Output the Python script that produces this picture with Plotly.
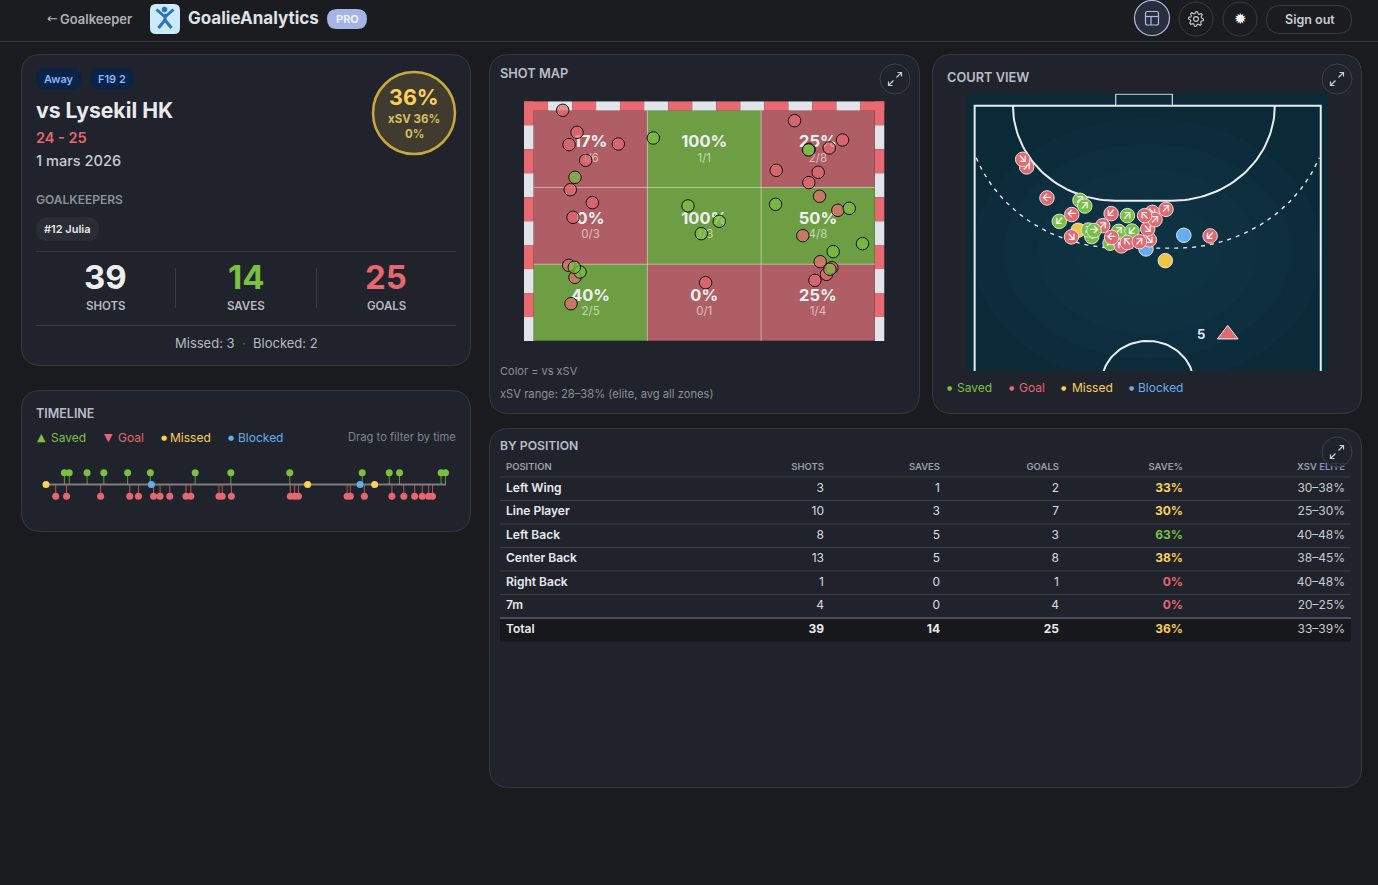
import numpy as np
import plotly.graph_objects as go

W, H = 1378, 885
FONT = "Inter"

BG = "#1a1b1e"
PANEL = "#20232b"
BORDER = "#373a41"
TEXT = "#e8eaed"
DIM = "#8b9099"
GREEN = "#7ac142"
RED = "#e5676f"
YELLOW = "#fdd05a"
BLUE = "#64aef0"

# timeline, minutes
saved_min = [3.4, 4.3, 7.6, 10.7, 15.1, 19.3, 27.6, 34.2, 45.1, 58.5, 63.5, 65.4, 73.1, 73.9]
goal_min = [1.8, 3.8, 10.1, 15.5, 17.1, 19.9, 21.1, 22.9, 25.9, 26.8, 32.0, 32.6, 34.3, 45.2,
            46.0, 46.7, 55.7, 56.3, 58.9, 64.0, 66.2, 68.2, 69.6, 70.8, 71.5]
missed_min = [0, 48.4, 60.8]
blocked_min = [19.5, 58.1]

# goal zones, top row first
zone_rate = [[17, 100, 25], [0, 100, 50], [40, 0, 25]]
zone_pct = ["17%", "100%", "25%", "0%", "100%", "50%", "40%", "0%", "25%"]
zone_count = ["1/6", "1/1", "2/8", "0/3", "3/3", "4/8", "2/5", "0/1", "1/4"]

# shots on the goal, in zone units
goal_x = [.255, .381, .311, .744, .457, .322, .516, .346, .308, .363, .328, 1.512, 2.294, 2.716,
          2.599, 2.133, 2.502, 2.420, 2.514, 2.675, 2.367, 2.520, 2.575, 2.622, 2.473]
goal_y = [3.005, 2.718, 2.558, 2.566, 2.353, 1.971, 1.802, 1.611, .986, .829, .486, .760, 2.870, 2.618,
          2.514, 2.223, 2.197, 2.063, 1.885, 1.702, 1.372, 1.033, .868, .955, .790]
save_x = [1.052, .363, 2.423, 2.417, .407, .357, 1.357, 1.632, 1.474, 2.127, 2.775, 2.892, 2.634, 2.605]
save_y = [2.644, 2.132, 2.497, 2.488, .899, .960, 1.759, 1.559, 1.398, 1.780, 1.728, 1.268, 1.164, .934]

# shots on the court, metres-ish, in drawing order
court_x = [-7.08, -7.31, -5.89, -3.96, -3.68, -5.17, -4.44, -4.07, -3.27, -3.47, -2.63, -3.14, -4.46, -2.20, -1.70,
           -1.19, -0.92, -2.14, -1.54, -0.10, 0.10, -1.19, -2.11, -0.49, 0.0, 0.27, 1.07, 0.43, -0.18, 3.65, 1.03, 2.11]
court_y = [3.87, 3.39, 5.83, 5.98, 6.34, 7.31, 6.88, 7.87, 8.27, 7.85, 7.58, 7.89, 8.29, 8.69, 7.94,
           6.95, 7.92, 6.82, 8.86, 9.05, 8.48, 8.65, 8.32, 8.59, 7.79, 6.74, 6.55, 7.20, 6.95, 8.23, 9.79, 8.19]
court_kind = ["G", "G", "G", "S", "S", "S", "G", "M", "S", "S", "G", "S", "G", "S", "S",
              "S", "S", "G", "G", "B", "G", "G", "G", "G", "G", "G", "G", "G", "G", "G", "M", "B"]
court_arrow = ["↗", "↘", "←", "↗", "↗", "↙", "←", "", "→", "↗", "↗", "→", "↘", "↗", "↗",
               "↗", "↙", "↙", "↖", "", "↘", "↖", "←", "↗", "↘", "↘", "↗", "↗", "↖", "↙", "", ""]
player_x = [4.68]
player_y = [14.45]
player_label = ["5"]

# table
positions = ["Left Wing", "Line Player", "Left Back", "Center Back", "Right Back", "7m", "Total"]
shots = [3, 10, 8, 13, 1, 4, 39]
saves = [1, 3, 5, 5, 0, 0, 14]
goals = [2, 7, 3, 8, 1, 4, 25]
save_pct = ["33%", "30%", "63%", "38%", "0%", "0%", "36%"]
xsv_elite = ["30–38%", "25–30%", "40–48%", "38–45%", "40–48%", "20–25%", "33–39%"]
pct_color = [YELLOW, YELLOW, GREEN, YELLOW, RED, RED, YELLOW]


def fx(x):
    return x / W


def fy(y):
    return 1 - y / H


def rr_path(x0, y0, x1, y1, r):
    # rounded rectangle in page pixels, written in paper units
    pts = [("M", x0 + r, y0), ("L", x1 - r, y0), ("Q", x1, y0, x1, y0 + r), ("L", x1, y1 - r),
           ("Q", x1, y1, x1 - r, y1), ("L", x0 + r, y1), ("Q", x0, y1, x0, y1 - r), ("L", x0, y0 + r),
           ("Q", x0, y0, x0 + r, y0)]
    out = []
    for p in pts:
        nums = p[1:]
        coords = [f"{fx(nums[i]):.5f},{fy(nums[i + 1]):.5f}" for i in range(0, len(nums), 2)]
        out.append(p[0] + " ".join(coords))
    return " ".join(out) + " Z"


fig = go.Figure()


def box(x0, y0, x1, y1, r, fill, line=None, lw=1, layer="below"):
    fig.add_shape(type="path", path=rr_path(x0, y0, x1, y1, r), xref="paper", yref="paper",
                  fillcolor=fill, line=dict(color=line or "rgba(0,0,0,0)", width=lw if line else 0), layer=layer)


def hline(x0, x1, y, color=BORDER, w=1):
    fig.add_shape(type="line", xref="paper", yref="paper", x0=fx(x0), x1=fx(x1), y0=fy(y), y1=fy(y),
                  line=dict(color=color, width=w), layer="below")


def vline(x, y0, y1, color=BORDER, w=1):
    fig.add_shape(type="line", xref="paper", yref="paper", x0=fx(x), x1=fx(x), y0=fy(y0), y1=fy(y1),
                  line=dict(color=color, width=w), layer="below")


def circle(cx, cy, r, fill="rgba(0,0,0,0)", line=BORDER, lw=1, layer="below"):
    fig.add_shape(type="circle", xref="paper", yref="paper", x0=fx(cx - r), x1=fx(cx + r),
                  y0=fy(cy + r), y1=fy(cy - r), fillcolor=fill, line=dict(color=line, width=lw), layer=layer)


def txt(x, y, s, size=12, color=TEXT, anchor="left", weight=400, family=FONT):
    # left-anchored annotations land about a pixel right of the asked spot
    dx = -1 if anchor == "left" else 0
    fig.add_annotation(x=fx(x + dx), y=fy(y - 0.1), xref="paper", yref="paper", text=s, showarrow=False,
                       xanchor=anchor, yanchor="middle", borderpad=0,
                       font=dict(family=family, size=size, color=color, weight=weight))


def expand_icon(cx, cy):
    circle(cx, cy, 15, fill="rgba(32,35,43,0.82)", line="#3d4047", layer="above")
    for sx, sy in [(1, -1), (-1, 1)]:
        path = (f"M{fx(cx + sx * 1.5):.5f},{fy(cy + sy * 1.5):.5f} L{fx(cx + sx * 6.5):.5f},{fy(cy + sy * 6.5):.5f} "
                f"M{fx(cx + sx * 2.5):.5f},{fy(cy + sy * 6.5):.5f} L{fx(cx + sx * 6.5):.5f},{fy(cy + sy * 6.5):.5f} "
                f"L{fx(cx + sx * 6.5):.5f},{fy(cy + sy * 2.5):.5f}")
        fig.add_shape(type="path", path=path, xref="paper", yref="paper",
                      line=dict(color="#c9ced6", width=1.2), layer="above")


def gear_icon(cx, cy):
    ang = np.linspace(0, 2 * np.pi, 33)[:-1]
    rad = [7.5, 7.5, 5.6, 5.6] * 8
    pts = [f"{fx(cx + r * np.cos(a)):.5f},{fy(cy + r * np.sin(a)):.5f}" for r, a in zip(rad, ang)]
    fig.add_shape(type="path", path="M" + " L".join(pts) + " Z", xref="paper", yref="paper",
                  line=dict(color="#c9ccd1", width=1.1), layer="below")
    circle(cx, cy, 2.4, line="#c9ccd1", lw=1.1)


def hidden(domain, rng, anchor):
    return dict(domain=domain, range=rng, anchor=anchor, visible=False, fixedrange=True)


def xdom(a, b):
    return [a / W, b / W]


def ydom(top, bottom):
    return [1 - bottom / H, 1 - top / H]


# page furniture
box(0, 0, W, 41.5, 0, "#1b1c20")
hline(0, W, 41.5, "#37393f")
box(21.5, 54.5, 470.5, 365.5, 20, PANEL, BORDER)
box(21.5, 390.5, 470.5, 531.5, 20, PANEL, BORDER)
box(489.5, 54.5, 919.5, 413.5, 20, PANEL, BORDER)
box(932.5, 54.5, 1361.5, 413.5, 20, PANEL, BORDER)
box(489.5, 428.5, 1361.5, 787.5, 20, PANEL, BORDER)

# header bar
txt(47, 19, "←", 13, "#adb2b9", family="DejaVu Sans")
txt(60, 19, "Goalkeeper", 13, "#adb2b9", weight=600)
box(150, 4, 180, 34, 6, "#cdeafc")
circle(164.5, 9.5, 2.4, fill="#2776b8", line="#2776b8")
for a, b, c, d in [(156.5, 9.5, 165, 17), (173.5, 9.5, 165, 17), (165, 14, 165, 21), (165, 20, 158.5, 28), (165, 20, 171.5, 28)]:
    fig.add_shape(type="line", xref="paper", yref="paper", x0=fx(a), y0=fy(b), x1=fx(c), y1=fy(d),
                  line=dict(color="#2776b8", width=3), layer="below")
txt(188, 18, "GoalieAnalytics", 17, "#dfe2e6", weight=700)
box(327, 9, 367, 29, 10, "#a5b4e6")
txt(347, 19, "PRO", 11, "#eef1fb", "center", 700)

circle(1152, 18, 17.5, fill="#282e3c", line="#a9bde8", lw=1.2)
box(1145.5, 11.5, 1158.5, 25, 2, "rgba(0,0,0,0)", "#a9bde8", 1.2)
hline(1145.5, 1158.5, 16.5, "#a9bde8", 1.2)
vline(1151, 16.5, 25, "#a9bde8", 1.2)
circle(1196, 19, 17, line="#3a3c42")
gear_icon(1196, 19)
circle(1240, 19, 17, line="#3a3c42")
txt(1240, 19.5, "✹", 15, "#f2f2f2", "center", family="DejaVu Sans")
box(1266.5, 5.5, 1351.5, 33.5, 14, "rgba(0,0,0,0)", "#3a3c42")
txt(1309.5, 19.5, "Sign out", 12.5, "#c9ccd1", "center", 600)

# match card
box(36, 68, 81, 90, 11, "#0a2347")
txt(58.5, 79, "Away", 11, "#8ab4f8", "center", 600)
box(90, 68, 134, 90, 11, "#0a2347")
txt(112, 79, "F19 2", 11, "#8ab4f8", "center", 600)
txt(36, 110, "vs Lysekil HK", 21.2, TEXT, weight=700)
txt(36, 138, "24 - 25", 14.5, RED, weight=600)
txt(36, 161, "1 mars 2026", 14.6, "#c9ccd1", weight=500)
circle(414, 113, 41, fill="#3f3b2e", line="#c9a93f", lw=2.5)
txt(414, 97, "36%", 21.5, YELLOW, "center", 700)
txt(414, 119, "xSV 36%", 11.5, "#d9bf5c", "center", 700)
txt(414, 134, "0%", 11.5, "#d9bf5c", "center", 700)
txt(36, 200, "GOALKEEPERS", 12, DIM, weight=600)
box(36, 217, 99, 241, 12, "#2a2d35")
txt(44, 229, "#12 Julia", 11, TEXT, weight=600)
hline(36, 456, 251.5)
hline(36, 456, 325.5)
vline(175.5, 268, 308)
vline(316.5, 268, 308)
for cx, val, lab, col in [(105.5, "39", "SHOTS", "#eceef0"), (246, "14", "SAVES", GREEN), (386, "25", "GOALS", RED)]:
    txt(cx, 277.5, val, 33, col, "center", 700)
    txt(cx, 306.5, lab, 11.5, "#b6bac1", "center", 600)
txt(175, 343, "Missed: 3", 13, "#b6bac1")
txt(243.5, 343, "·", 13, "#5f636b", "center")
txt(253, 343, "Blocked: 2", 13, "#b6bac1")

# timeline legend and titles
txt(36, 414, "TIMELINE", 12.5, "#b8bec8", weight=600)
txt(37, 438, "▲", 11, GREEN, family="DejaVu Sans")
txt(51, 438, "Saved", 12, GREEN)
txt(104, 438, "▼", 11, RED, family="DejaVu Sans")
txt(118, 438, "Goal", 12, RED)
txt(161, 438, "●", 7, YELLOW, family="DejaVu Sans")
txt(170, 438, "Missed", 12, YELLOW)
txt(228, 438, "●", 7, BLUE, family="DejaVu Sans")
txt(238, 438, "Blocked", 12, BLUE)
txt(456.5, 437, "Drag to filter by time", 11.2, "#7f8590", "right")

txt(500, 74, "SHOT MAP", 12.8, "#b8bec8", weight=600)
txt(500, 371, "Color = vs xSV", 11, DIM)
txt(500, 394, "xSV range: 28–38% (elite, avg all zones)", 11.2, DIM)
txt(947, 78, "COURT VIEW", 12.8, "#b8bec8", weight=600)
for dot, tx, lab, col in [(947, 957, "Saved", GREEN), (1009, 1019, "Goal", RED), (1061, 1072, "Missed", YELLOW), (1129, 1138, "Blocked", BLUE)]:
    txt(dot, 388, "●", 6, col, family="DejaVu Sans")
    txt(tx, 388, lab, 12, col)
txt(500, 446, "BY POSITION", 12.2, "#b8bec8", weight=600)

expand_icon(895, 79)
expand_icon(1337, 79)
expand_icon(1337, 452)

# timeline
stem = dict(type="data", symmetric=False, thickness=1, width=0)
fig.add_trace(go.Scatter(x=[0, 74], y=[0, 0], mode="lines", line=dict(color="#7c7c7c", width=2),
                         xaxis="x", yaxis="y", cliponaxis=False, hoverinfo="skip"))
fig.add_trace(go.Scatter(x=saved_min, y=[1] * len(saved_min), mode="markers", xaxis="x", yaxis="y", cliponaxis=False,
                         marker=dict(size=7, color=GREEN),
                         error_y=dict(stem, array=[0] * len(saved_min), arrayminus=[1] * len(saved_min), color="rgba(122,193,66,0.75)")))
fig.add_trace(go.Scatter(x=goal_min, y=[-1] * len(goal_min), mode="markers", xaxis="x", yaxis="y", cliponaxis=False,
                         marker=dict(size=7, color=RED),
                         error_y=dict(stem, array=[1] * len(goal_min), arrayminus=[0] * len(goal_min), color="rgba(229,103,111,0.75)")))
fig.add_trace(go.Scatter(x=missed_min, y=[0] * len(missed_min), mode="markers", xaxis="x", yaxis="y", cliponaxis=False,
                         marker=dict(size=7, color=YELLOW)))
fig.add_trace(go.Scatter(x=blocked_min, y=[0] * len(blocked_min), mode="markers", xaxis="x", yaxis="y", cliponaxis=False,
                         marker=dict(size=7, color=BLUE)))
for t, lab, anc in [(0, "0'", "left"), (37, "37'", "center"), (74, "74'", "right")]:
    fig.add_annotation(x=t, y=-2.35, xref="x", yref="y", text=lab, showarrow=False, xanchor=anc, yanchor="middle",
                       font=dict(family=FONT, size=8.5, color="#a4a9b1"))

# shot map frame
FRAME_RED = "#e8696f"
FRAME_WHITE = "#e1e4e8"
top_edges = np.linspace(-0.0853, 3.0853, 16)
for i in range(15):
    fig.add_shape(type="rect", xref="x2", yref="y2", x0=top_edges[i], x1=top_edges[i + 1], y0=3, y1=3.122,
                  fillcolor=FRAME_RED if i % 2 == 0 else FRAME_WHITE, line_width=0, layer="below")
side_edges = np.linspace(3.122, 0, 11)
for i in range(10):
    for a, b in [(-0.0853, 0), (3, 3.0853)]:
        fig.add_shape(type="rect", xref="x2", yref="y2", x0=a, x1=b, y0=side_edges[i + 1], y1=side_edges[i],
                      fillcolor=FRAME_RED if i % 2 == 0 else FRAME_WHITE, line_width=0, layer="below")
fig.add_trace(go.Heatmap(x=[0.5, 1.5, 2.5], y=[2.5, 1.5, 0.5], z=zone_rate, zmin=0, zmax=100, showscale=False,
                         colorscale=[[0, "#b05e66"], [0.33, "#b05e66"], [0.33, "#6d9e44"], [1, "#6d9e44"]],
                         xaxis="x2", yaxis="y2", hoverinfo="skip"))
fig.add_trace(go.Scatter(x=[1, 1, None, 2, 2, None, 0, 3, None, 0, 3], y=[0, 3, None, 0, 3, None, 1, 1, None, 2, 2],
                         mode="lines", line=dict(color="rgba(255,255,255,0.45)", width=1), xaxis="x2", yaxis="y2", hoverinfo="skip"))
zone_cx = [0.5, 1.5, 2.5] * 3
zone_cy = [2.5] * 3 + [1.5] * 3 + [0.5] * 3
fig.add_trace(go.Scatter(x=zone_cx, y=[v + 0.08 for v in zone_cy], text=zone_pct, mode="text", xaxis="x2", yaxis="y2",
                         textfont=dict(family=FONT, size=16.5, color="#eef0f2", weight=700), hoverinfo="skip"))
fig.add_trace(go.Scatter(x=zone_cx, y=[v - 0.125 for v in zone_cy], text=zone_count, mode="text", xaxis="x2", yaxis="y2",
                         textfont=dict(family=FONT, size=11.5, color="rgba(255,255,255,0.6)"), hoverinfo="skip"))
fig.add_trace(go.Scatter(x=goal_x, y=goal_y, mode="markers", xaxis="x2", yaxis="y2", cliponaxis=False,
                         marker=dict(size=12.5, color="rgba(232,105,111,0.7)", line=dict(color="#111", width=1))))
fig.add_trace(go.Scatter(x=save_x, y=save_y, mode="markers", xaxis="x2", yaxis="y2", cliponaxis=False,
                         marker=dict(size=12.5, color="rgba(122,193,66,0.7)", line=dict(color="#111", width=1))))

# court
fig.add_shape(type="rect", xref="x3", yref="y3", x0=-10.585, x1=10.526, y0=-0.779, y1=16.76,
              fillcolor="#0b2a38", line_width=0, layer="below")
for rx, ry in [(10.2, 8.4), (8.4, 6.8), (6.4, 5.2), (4.2, 3.4)]:
    fig.add_shape(type="circle", xref="x3", yref="y3", x0=-rx, x1=rx, y0=9.2 - ry, y1=9.2 + ry,
                  fillcolor="rgba(40,100,120,0.05)", line_width=0, layer="below")


def goal_arc(cx, p, r, start=0.0):
    t = np.linspace(start, np.pi / 2, 40)
    left_x = cx - p - r * np.cos(t)
    right_x = cx + p + r * np.cos(t[::-1])
    ys = r * np.sin(t)
    return list(left_x) + list(right_x), list(ys) + list(ys[::-1])


LINE = "#e9edf0"
arc_x, arc_y = goal_arc(-0.224, 1.657, 6)
fig.add_trace(go.Scatter(x=arc_x, y=arc_y, mode="lines", line=dict(color=LINE, width=2), xaxis="x3", yaxis="y3", hoverinfo="skip"))
arc_x, arc_y = goal_arc(0, 1.657, 9, start=0.375)
fig.add_trace(go.Scatter(x=arc_x, y=arc_y, mode="lines", line=dict(color=LINE, width=1.4, dash="4px,5px"), xaxis="x3", yaxis="y3", hoverinfo="skip"))
fig.add_trace(go.Scatter(x=[-10.12, -10.12, 10.12, 10.12], y=[16.76, 0, 0, 16.76], mode="lines",
                         line=dict(color=LINE, width=2), xaxis="x3", yaxis="y3", hoverinfo="skip"))
fig.add_trace(go.Scatter(x=[-1.87, -1.87, 1.44, 1.44], y=[0, -0.72, -0.72, 0], mode="lines",
                         line=dict(color="#d5dade", width=1.2), xaxis="x3", yaxis="y3", hoverinfo="skip"))
t = np.linspace(np.pi, 2 * np.pi, 60)
fig.add_trace(go.Scatter(x=2.7 * np.cos(t), y=17.56 + 2.7 * np.sin(t), mode="lines", line=dict(color=LINE, width=2),
                         xaxis="x3", yaxis="y3", hoverinfo="skip"))

kind_color = {"S": GREEN, "G": RED, "M": "#eec643", "B": BLUE}
for cx_, cy_, kind, arrow in zip(court_x, court_y, court_kind, court_arrow):
    fig.add_trace(go.Scatter(x=[cx_], y=[cy_], text=[arrow], mode="markers+text", textposition="middle center",
                             xaxis="x3", yaxis="y3", cliponaxis=False,
                             marker=dict(size=14.5, color=kind_color[kind], line=dict(color="#dfe3e6", width=1)),
                             textfont=dict(family=FONT, size=11.5, color="#f6f7f8", weight=600)))
fig.add_trace(go.Scatter(x=player_x, y=player_y, mode="markers", xaxis="x3", yaxis="y3",
                         marker=dict(symbol="triangle-up", size=18, color=RED, line=dict(color="#f0f0f0", width=1))))
fig.add_annotation(x=3.12, y=14.42, xref="x3", yref="y3", text=player_label[0], showarrow=False,
                   font=dict(family=FONT, size=13, color="#dfe8f2", weight=700))

# table
ROW_LINES = [-0.5, 0.5, 1.5, 2.5, 3.5, 4.5]
fig.add_shape(type="rect", xref="x4", yref="y4", x0=500, x1=1351, y0=5.55, y1=6.5, fillcolor="#17181b", line_width=0, layer="below")
for r in ROW_LINES:
    fig.add_shape(type="line", xref="x4", yref="y4", x0=500, x1=1351, y0=r, y1=r, line=dict(color="#3b3e45", width=1), layer="below")
fig.add_shape(type="line", xref="x4", yref="y4", x0=500, x1=1351, y0=5.5, y1=5.5, line=dict(color="#4a4d54", width=2), layer="below")

rows = list(range(len(positions)))
columns = [(824, "SHOTS", shots), (940, "SAVES", saves), (1059, "GOALS", goals)]
HEADER_Y = -0.9
header = dict(family=FONT, size=9.5, color="#9aa0a8", weight=600)
fig.add_trace(go.Scatter(x=[506], y=[HEADER_Y], text=["POSITION"], mode="text", textposition="middle right",
                         textfont=header, xaxis="x4", yaxis="y4", hoverinfo="skip"))
fig.add_trace(go.Scatter(x=[col[0] for col in columns] + [1183], y=[HEADER_Y] * 4,
                         text=[col[1] for col in columns] + ["SAVE%"], mode="text", textposition="middle left",
                         textfont=header, xaxis="x4", yaxis="y4", hoverinfo="skip"))
fig.add_trace(go.Scatter(x=[1345], y=[HEADER_Y], text=["XSV <span style='color:#7f93c4'>ELITE</span>"], mode="text",
                         textposition="middle left", textfont=header, xaxis="x4", yaxis="y4", hoverinfo="skip"))
for i in rows:
    fig.add_trace(go.Scatter(x=[506], y=[i], text=[positions[i]], mode="text", textposition="middle right",
                             textfont=dict(family=FONT, size=12, color=TEXT, weight=600), xaxis="x4", yaxis="y4", hoverinfo="skip"))
    for cx_, _, vals in columns:
        fig.add_trace(go.Scatter(x=[cx_], y=[i], text=[vals[i]], mode="text", textposition="middle left",
                                 textfont=dict(family=FONT, size=12, color="#d9dce0" if i < 6 else TEXT, weight=400 if i < 6 else 700),
                                 xaxis="x4", yaxis="y4", hoverinfo="skip"))
    fig.add_trace(go.Scatter(x=[1183], y=[i], text=[save_pct[i]], mode="text", textposition="middle left",
                             textfont=dict(family=FONT, size=12, color=pct_color[i], weight=700), xaxis="x4", yaxis="y4", hoverinfo="skip"))
    fig.add_trace(go.Scatter(x=[1345], y=[i], text=[xsv_elite[i]], mode="text", textposition="middle left",
                             textfont=dict(family=FONT, size=12, color="#c9ccd1"), xaxis="x4", yaxis="y4", hoverinfo="skip"))

fig.update_layout(
    width=W, height=H, margin=dict(l=0, r=0, t=0, b=0), autosize=False,
    paper_bgcolor=BG, plot_bgcolor="rgba(0,0,0,0)", showlegend=False, dragmode=False,
    xaxis=hidden(xdom(46, 446), [0, 74], "y"),
    yaxis=hidden(ydom(460, 510), [-2.16, 2.08], "x"),
    xaxis2=hidden(xdom(524, 884.5), [-0.0853, 3.0853], "y2"),
    yaxis2=hidden(ydom(101.3, 341), [0, 3.122], "x2"),
    xaxis3=hidden(xdom(966.7, 1327.7), [-10.585, 10.526], "y3"),
    yaxis3=hidden(ydom(93.3, 371), [16.76, -0.779], "x3"),
    xaxis4=hidden(xdom(500, 1351), [500, 1351], "y4"),
    yaxis4=hidden(ydom(455, 645), [6.651, -1.434], "x4"),
)
fig.write_html("out.html", config=dict(displayModeBar=False),
               post_script="document.body.style.margin='0';document.body.style.background='#1a1b1e';")
